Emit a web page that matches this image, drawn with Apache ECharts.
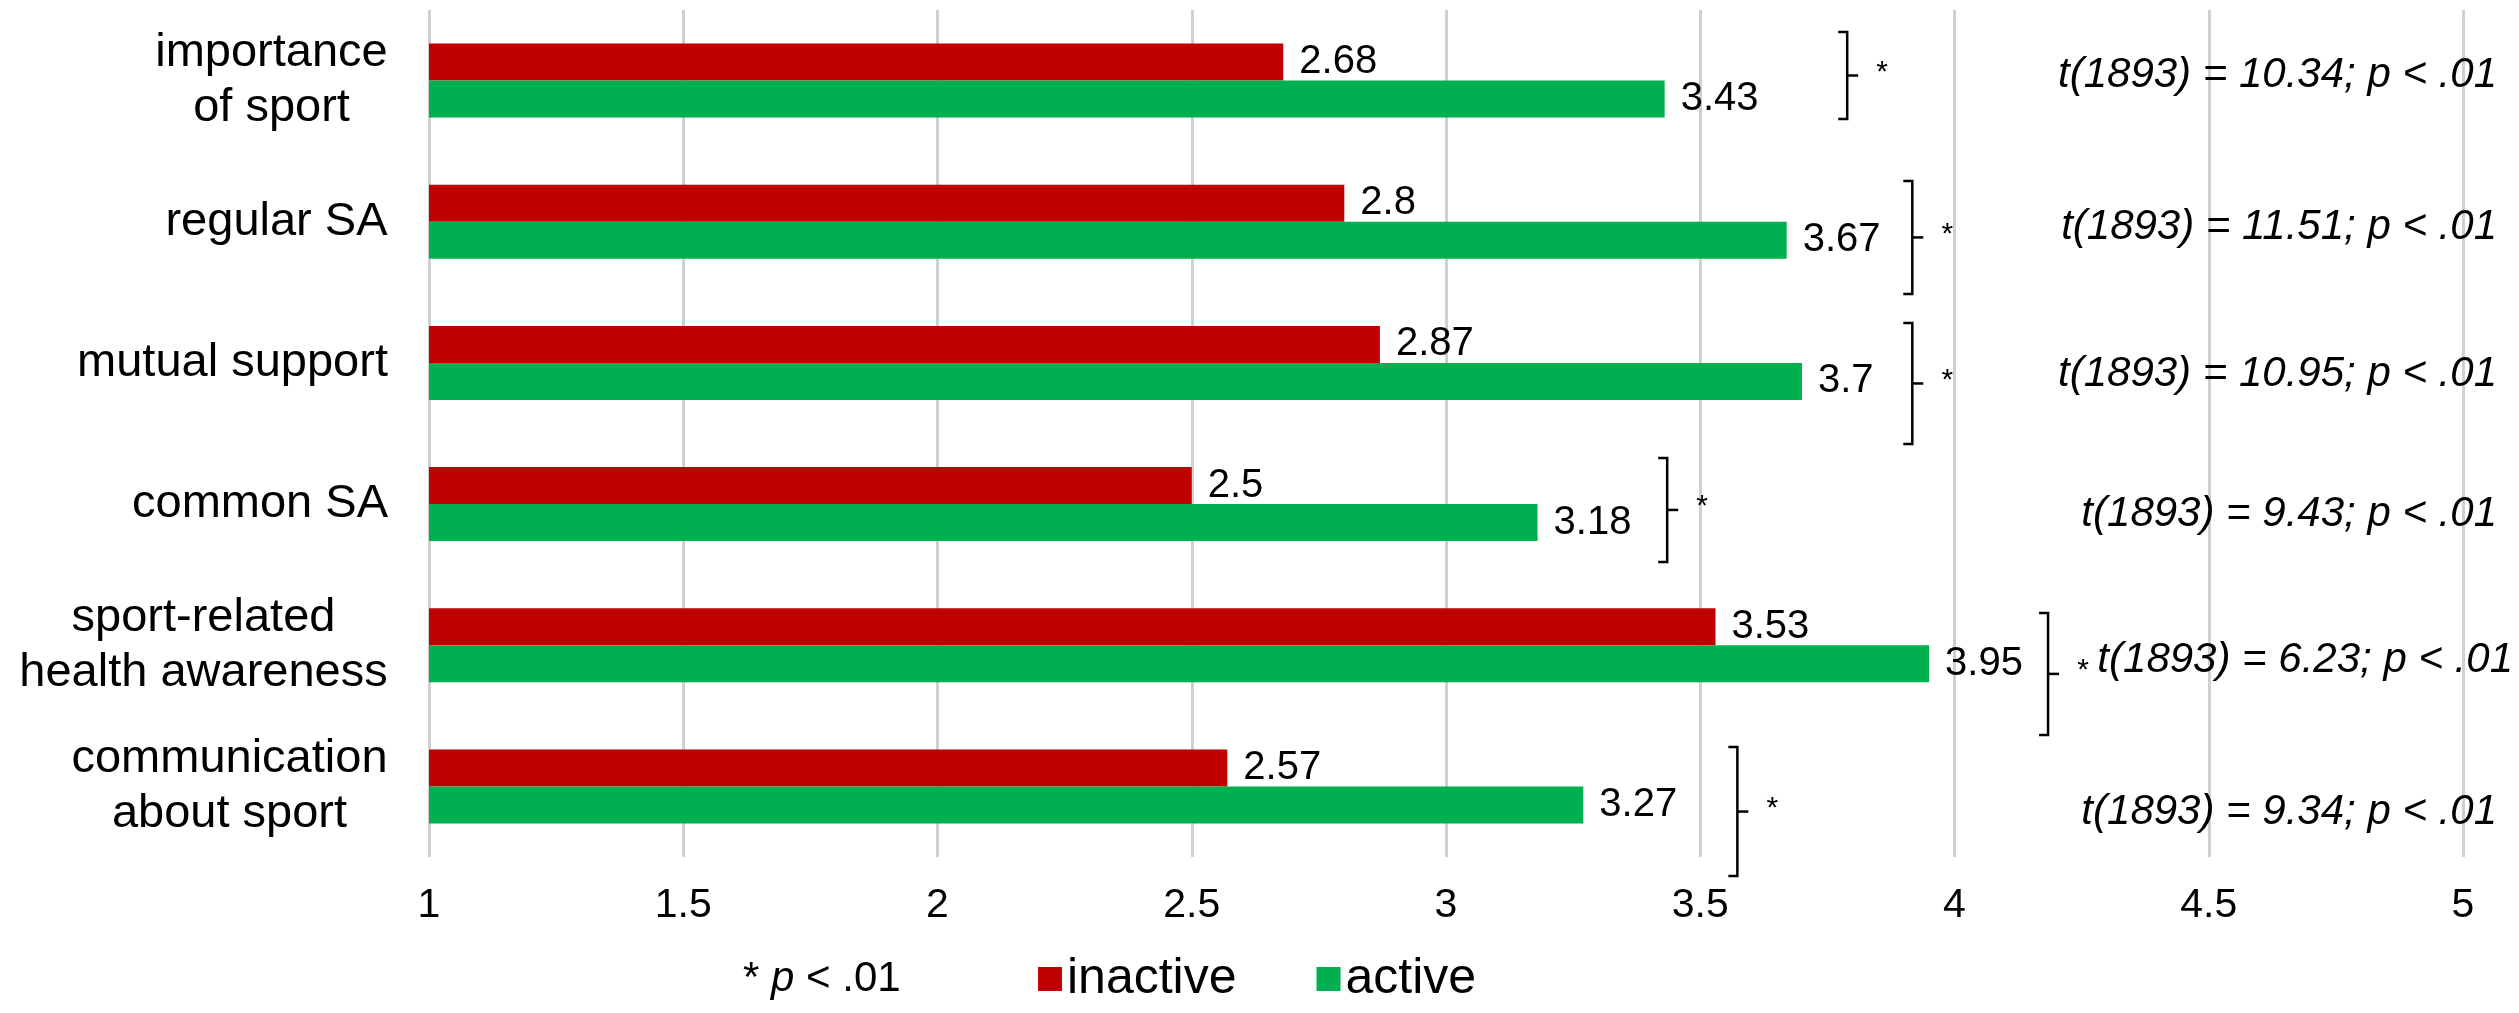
<!DOCTYPE html>
<html>
<head>
<meta charset="utf-8">
<script src="https://cdn.jsdelivr.net/npm/echarts@6/dist/echarts.min.js"></script>
<style>
  html, body { margin: 0; padding: 0; background: #fff; }
  #chart { width: 2519px; height: 1013px; }
</style>
</head>
<body>
<div id="chart"></div>
<script>
const FONT = '"Liberation Sans", Arial, sans-serif'

const categories = [
  'importance\nof sport',
  'regular SA',
  'mutual support',
  'common SA',
  'sport-related\nhealth awareness',
  'communication\nabout sport'
]
const inactive = [2.68, 2.8, 2.87, 2.5, 3.53, 2.57]
const active = [3.43, 3.67, 3.7, 3.18, 3.95, 3.27]
const tValues = ['10.34', '11.51', '10.95', '9.43', '6.23', '9.34']
const df = 1893

// bracket annotations (layout only): x in axis units, top/bottom as share of the category band
const bracketX = [3.789, 3.917, 3.917, 3.435, 4.184, 3.573]
const bracketTop = [-0.344, -0.289, -0.283, -0.327, -0.229, -0.279]
const bracketBottom = [0.272, 0.511, 0.574, 0.41, 0.635, 0.635]
const statDy = [0, -10, -9, 4, -14, 1]
const statDx = [0, 0, 0, 0, 16, 0]

// multi-line category labels are centred line by line
const measure = document.createElement('canvas').getContext('2d')
measure.font = '47px ' + FONT
const labelRich = {}
categories.forEach((c, i) => {
  const w = Math.max(...c.split('\n').map(l => measure.measureText(l).width))
  labelRich['c' + i] = {
    width: Math.ceil(w), align: 'center', fontSize: 47, lineHeight: 55,
    fontFamily: FONT, color: '#000'
  }
})

const chart = echarts.init(document.getElementById('chart'), null, { renderer: 'canvas' })

chart.setOption({
  animation: false,
  backgroundColor: '#fff',
  title: {
    text: '* {p|p} < .01',
    left: 738,
    top: 953,
    textStyle: {
      fontSize: 42, fontWeight: 'normal', color: '#000', fontFamily: FONT,
      rich: { p: { fontStyle: 'italic', fontSize: 42, color: '#000', fontFamily: FONT } }
    }
  },
  legend: {
    data: ['inactive', 'active'],
    left: 1033,
    top: 949,
    icon: 'rect',
    itemWidth: 24,
    itemHeight: 24,
    itemGap: 80,
    textStyle: { fontSize: 50, color: '#000', fontFamily: FONT }
  },
  grid: {
    left: 429,
    right: 56,
    top: 10,
    bottom: 156,
    containLabel: false,
    outerBoundsMode: 'none'
  },
  xAxis: {
    type: 'value',
    min: 1,
    max: 5,
    interval: 0.5,
    axisLine: { show: false },
    axisTick: { show: false },
    axisLabel: { fontSize: 41, color: '#000', fontFamily: FONT, margin: 28 },
    splitLine: { show: true, lineStyle: { color: '#d0d0d0', width: 3 } }
  },
  yAxis: {
    type: 'category',
    inverse: true,
    data: categories,
    axisLine: { show: false },
    axisTick: { show: false },
    axisLabel: {
      margin: 41,
      formatter: (v, i) => v.split('\n').map(l => '{c' + i + '|' + l + '}').join('\n'),
      rich: labelRich
    }
  },
  series: [
    {
      name: 'inactive',
      type: 'bar',
      data: inactive,
      barWidth: 37,
      barGap: '0%',
      itemStyle: { color: '#C00000' },
      label: { show: true, position: 'right', distance: 16, fontSize: 40, color: '#000', fontFamily: FONT }
    },
    {
      name: 'active',
      type: 'bar',
      data: active,
      barWidth: 37,
      barGap: '0%',
      itemStyle: { color: '#00B050' },
      label: { show: true, position: 'right', distance: 16, fontSize: 40, color: '#000', fontFamily: FONT }
    },
    {
      name: 'brackets',
      type: 'custom',
      silent: true,
      clip: false,
      data: categories.map((c, i) => [bracketX[i], i]),
      encode: { x: 0, y: 1 },
      renderItem(params, api) {
        const i = params.dataIndex
        const p = api.coord([api.value(0), i])
        const band = api.size([0, 1])[1]
        const x = p[0]
        const top = p[1] + bracketTop[i] * band
        const bot = p[1] + bracketBottom[i] * band
        const mid = (top + bot) / 2
        const statX = api.coord([5, i])[0] + 34 + statDx[i]
        return {
          type: 'group',
          children: [
            {
              type: 'polyline',
              shape: { points: [[x - 9, top], [x, top], [x, bot], [x - 9, bot]] },
              style: { stroke: '#000', lineWidth: 2.5, fill: null }
            },
            {
              type: 'line',
              shape: { x1: x, y1: mid, x2: x + 11, y2: mid },
              style: { stroke: '#000', lineWidth: 2.5 }
            },
            {
              type: 'text',
              x: x + 35,
              y: mid - 3,
              style: { text: '*', fontSize: 30, fontFamily: FONT, fill: '#000', align: 'center', verticalAlign: 'middle' }
            },
            {
              type: 'text',
              x: statX,
              y: mid + statDy[i],
              style: {
                text: 't(' + df + ') = ' + tValues[i] + '; p < .01',
                fontSize: 42, fontStyle: 'italic', fontFamily: FONT, fill: '#000',
                align: 'right', verticalAlign: 'middle'
              }
            }
          ]
        }
      }
    }
  ]
})
</script>
</body>
</html>
